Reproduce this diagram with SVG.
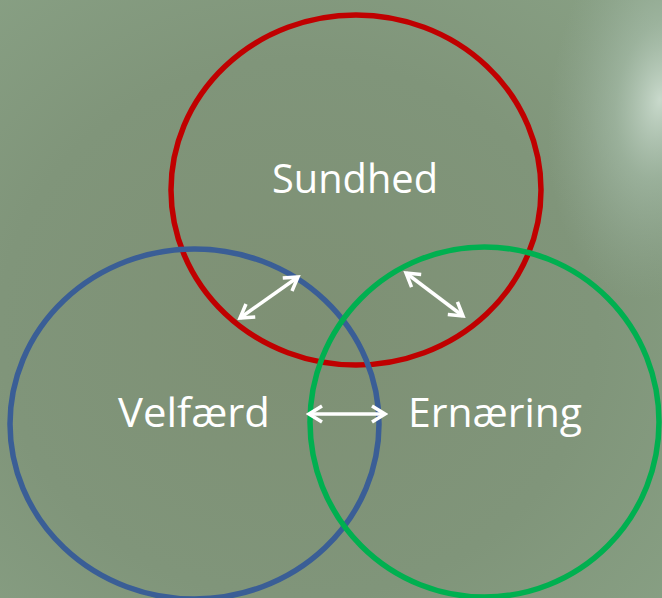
<svg xmlns="http://www.w3.org/2000/svg" width="662" height="598" viewBox="0 0 662 598">
<defs>
<radialGradient id="bg" cx="0.45" cy="0.55" r="0.75">
<stop offset="0" stop-color="#7e9074"/>
<stop offset="0.6" stop-color="#80957a"/>
<stop offset="1" stop-color="#88a084"/>
</radialGradient>
<radialGradient id="glare" cx="0" cy="0" r="1" gradientUnits="userSpaceOnUse" gradientTransform="translate(660,100) rotate(8) scale(110,200)">
<stop offset="0" stop-color="#d0e0d4" stop-opacity="0.9"/>
<stop offset="0.4" stop-color="#b0c6b6" stop-opacity="0.5"/>
<stop offset="1" stop-color="#9ab0a0" stop-opacity="0"/>
</radialGradient>
<marker id="ah" viewBox="0 0 20 20" refX="17" refY="10" markerWidth="20" markerHeight="20" markerUnits="userSpaceOnUse" orient="auto-start-reverse">
<path d="M4,2 L17,10 L4,18" fill="none" stroke="#ffffff" stroke-width="3.5" stroke-linejoin="miter"/>
</marker>
<style>
.c{fill:none;stroke-width:5.5}
.t{font-family:"Open Sans","Liberation Sans",Arial,sans-serif;font-size:40px;fill:#ffffff;text-anchor:middle}
.a{stroke:#ffffff;stroke-width:3.5;fill:none;marker-start:url(#ah);marker-end:url(#ah)}
</style>
</defs>
<rect width="662" height="598" fill="url(#bg)"/>
<rect width="662" height="598" fill="url(#glare)"/>
<g id="sundhed">
<ellipse class="c" cx="356" cy="190" rx="185" ry="175" stroke="#c00000"/>
<text class="t" x="355" y="193" textLength="166" lengthAdjust="spacingAndGlyphs">Sundhed</text>
</g>
<g id="velfaerd">
<ellipse class="c" cx="194.5" cy="424" rx="184.5" ry="175" stroke="#3a5e96"/>
<text class="t" x="194" y="427" textLength="152" lengthAdjust="spacingAndGlyphs">Velfærd</text>
</g>
<g id="ernaering">
<ellipse class="c" cx="484.5" cy="422" rx="174.5" ry="175" stroke="#00b050"/>
<text class="t" x="495" y="427" textLength="174" lengthAdjust="spacingAndGlyphs">Ernæring</text>
</g>
<g id="connectors">
<line class="a" x1="240" y1="318" x2="298" y2="277"/>
<line class="a" x1="406" y1="273" x2="463" y2="316"/>
<line class="a" x1="309" y1="414" x2="385" y2="414"/>
</g>
</svg>
